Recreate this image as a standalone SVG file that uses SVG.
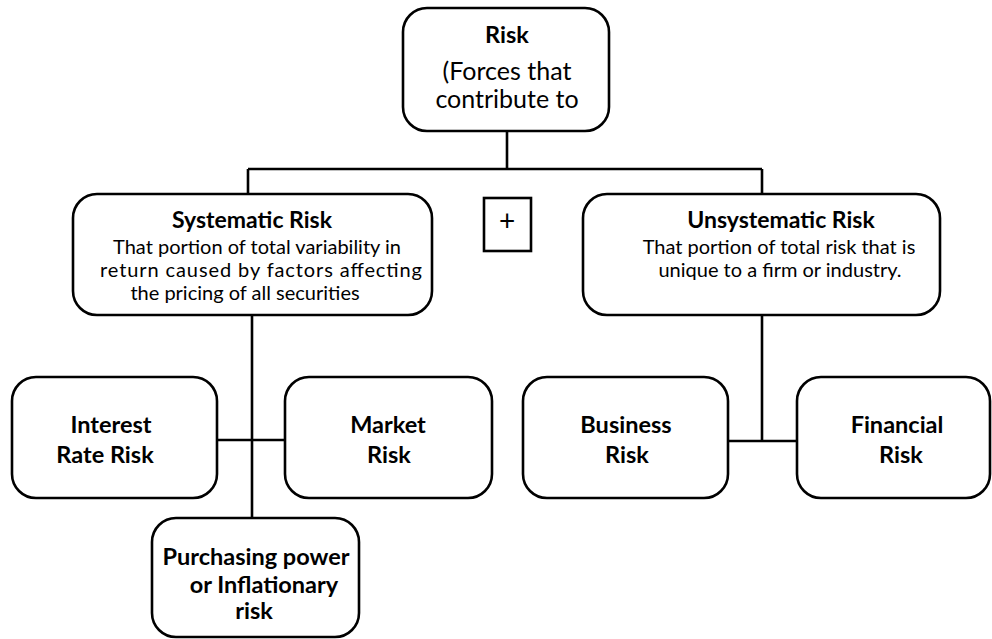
<svg xmlns="http://www.w3.org/2000/svg" width="992" height="639" viewBox="0 0 992 639">
<style>
.box{fill:#fff;stroke:#000;stroke-width:2.6}
.ln{stroke:#000;stroke-width:2.6;fill:none}
text{font-family:Lato,"Liberation Sans",sans-serif;fill:#000;text-anchor:middle}
.t{font-weight:bold;font-size:23px}
.d{font-size:20px}
.b{font-weight:bold;font-size:23.5px}
.r{font-size:25px}
</style>
<rect width="992" height="639" fill="#fff"/>
<g id="connectors">
<path class="ln" d="M507 131V169M248 169H762M248 169V194M762 169V194"/>
<path class="ln" d="M252 315V518M217 440H285"/>
<path class="ln" d="M762 315V441M728 441H797"/>
</g>
<g id="risk">
<rect class="box" x="403" y="8" width="206" height="123" rx="24"/>
<text class="b" x="507" y="43">Risk</text>
<text class="r" x="507" y="80">(Forces that</text>
<text class="r" x="507" y="108">contribute to</text>
</g>
<g id="systematic">
<rect class="box" x="73" y="194" width="359" height="121" rx="24"/>
<text class="t" x="252" y="228">Systematic Risk</text>
<text class="d" x="257" y="254">That portion of total variability in</text>
<text class="d" x="261" y="277" textLength="322" lengthAdjust="spacing">return caused by factors affecting</text>
<text class="d" x="245" y="300">the pricing of all securities</text>
</g>
<g id="plus">
<rect class="box" x="484" y="198" width="47" height="53"/>
<text x="507" y="231" style="font-size:28px">+</text>
</g>
<g id="unsystematic">
<rect class="box" x="583" y="194" width="357" height="121" rx="24"/>
<text class="t" x="781" y="228">Unsystematic Risk</text>
<text class="d" x="779" y="254">That portion of total risk that is</text>
<text class="d" x="780" y="277">unique to a firm or industry.</text>
</g>
<g id="interest">
<rect class="box" x="12" y="377" width="205" height="121" rx="24"/>
<text class="b" x="111" y="433">Interest</text>
<text class="b" x="105" y="463">Rate Risk</text>
</g>
<g id="market">
<rect class="box" x="285" y="377" width="207" height="121" rx="24"/>
<text class="b" x="388" y="433">Market</text>
<text class="b" x="389" y="463">Risk</text>
</g>
<g id="business">
<rect class="box" x="523" y="377" width="205" height="121" rx="24"/>
<text class="b" x="626" y="433">Business</text>
<text class="b" x="627" y="463">Risk</text>
</g>
<g id="financial">
<rect class="box" x="797" y="377" width="193" height="121" rx="24"/>
<text class="b" x="897" y="433">Financial</text>
<text class="b" x="901" y="463">Risk</text>
</g>
<g id="purchasing">
<rect class="box" x="152" y="518" width="207" height="119" rx="24"/>
<text class="b" x="256" y="565">Purchasing power</text>
<text class="b" x="264" y="593">or Inflationary</text>
<text class="b" x="254" y="619">risk</text>
</g>
</svg>
